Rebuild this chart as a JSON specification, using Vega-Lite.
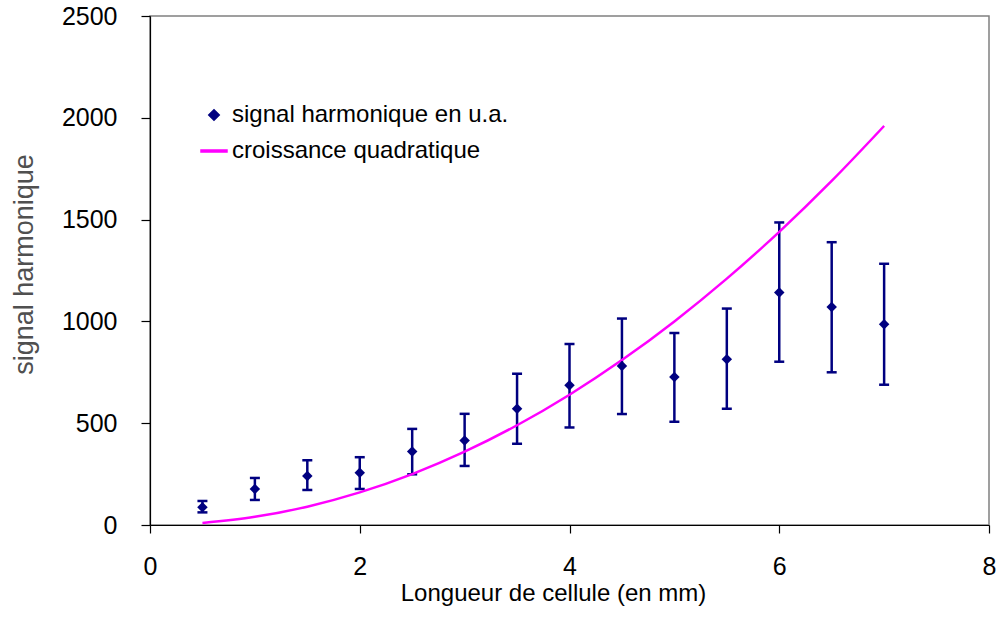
{
  "$schema": "https://vega.github.io/schema/vega-lite/v6.json",
  "width": 839,
  "height": 509,
  "autosize": {"type": "none"},
  "padding": {"left": 150, "top": 16, "right": 7, "bottom": 92},
  "background": "white",
  "config": {
    "view": {"stroke": "#808080", "strokeWidth": 1.5},
    "font": "Liberation Sans",
    "axis": {
      "grid": false,
      "labelFont": "Liberation Sans",
      "labelFontSize": 25,
      "labelColor": "#000000",
      "labelFlush": false,
      "labelOverlap": false,
      "titleFont": "Liberation Sans",
      "titleFontWeight": "normal",
      "domainColor": "#000000",
      "domainWidth": 1.2,
      "tickColor": "#000000",
      "tickWidth": 1.2
    },
    "legend": {
      "labelFont": "Liberation Sans",
      "labelFontSize": 24,
      "labelColor": "#000000",
      "labelLimit": 0
    }
  },
  "datasets": {
    "signal": [
      {"x": 0.5, "y": 87, "lo": 62, "hi": 118, "series": "signal harmonique en u.a."},
      {"x": 1.0, "y": 177, "lo": 123, "hi": 231, "series": "signal harmonique en u.a."},
      {"x": 1.5, "y": 241, "lo": 172, "hi": 318, "series": "signal harmonique en u.a."},
      {"x": 2.0, "y": 257, "lo": 177, "hi": 333, "series": "signal harmonique en u.a."},
      {"x": 2.5, "y": 361, "lo": 249, "hi": 472, "series": "signal harmonique en u.a."},
      {"x": 3.0, "y": 415, "lo": 290, "hi": 546, "series": "signal harmonique en u.a."},
      {"x": 3.5, "y": 571, "lo": 399, "hi": 743, "series": "signal harmonique en u.a."},
      {"x": 4.0, "y": 686, "lo": 479, "hi": 889, "series": "signal harmonique en u.a."},
      {"x": 4.5, "y": 781, "lo": 545, "hi": 1014, "series": "signal harmonique en u.a."},
      {"x": 5.0, "y": 727, "lo": 507, "hi": 943, "series": "signal harmonique en u.a."},
      {"x": 5.5, "y": 814, "lo": 571, "hi": 1063, "series": "signal harmonique en u.a."},
      {"x": 6.0, "y": 1142, "lo": 802, "hi": 1486, "series": "signal harmonique en u.a."},
      {"x": 6.5, "y": 1071, "lo": 750, "hi": 1389, "series": "signal harmonique en u.a."},
      {"x": 7.0, "y": 986, "lo": 689, "hi": 1283, "series": "signal harmonique en u.a."}
    ],
    "quad": [
      {"x": 0.5, "y": 10, "series": "croissance quadratique"},
      {"x": 1.0, "y": 40, "series": "croissance quadratique"},
      {"x": 1.5, "y": 90, "series": "croissance quadratique"},
      {"x": 2.0, "y": 160, "series": "croissance quadratique"},
      {"x": 2.5, "y": 250, "series": "croissance quadratique"},
      {"x": 3.0, "y": 360, "series": "croissance quadratique"},
      {"x": 3.5, "y": 490, "series": "croissance quadratique"},
      {"x": 4.0, "y": 640, "series": "croissance quadratique"},
      {"x": 4.5, "y": 810, "series": "croissance quadratique"},
      {"x": 5.0, "y": 1000, "series": "croissance quadratique"},
      {"x": 5.5, "y": 1210, "series": "croissance quadratique"},
      {"x": 6.0, "y": 1440, "series": "croissance quadratique"},
      {"x": 6.5, "y": 1690, "series": "croissance quadratique"},
      {"x": 7.0, "y": 1960, "series": "croissance quadratique"}
    ]
  },
  "encoding": {
    "x": {
      "field": "x",
      "type": "quantitative",
      "scale": {"domain": [0, 8], "nice": false, "zero": false},
      "axis": {
        "title": "Longueur de cellule (en mm)",
        "values": [0, 2, 4, 6, 8],
        "format": "d",
        "tickSize": 8,
        "labelPadding": 21,
        "titleFontSize": 24,
        "titleColor": "#000000",
        "titleX": 403,
        "titleY": 75,
        "titleBaseline": "alphabetic",
        "titleAnchor": null,
        "titleAlign": "center"
      }
    }
  },
  "layer": [
    {
      "data": {"name": "signal"},
      "mark": {"type": "rule", "color": "#000080", "strokeWidth": 2.5},
      "encoding": {
        "y": {"field": "hi", "type": "quantitative"},
        "y2": {"field": "lo"}
      }
    },
    {
      "data": {"name": "signal"},
      "mark": {"type": "tick", "orient": "horizontal", "color": "#000080", "size": 10, "thickness": 2.5, "opacity": 1},
      "encoding": {"y": {"field": "hi", "type": "quantitative"}}
    },
    {
      "data": {"name": "signal"},
      "mark": {"type": "tick", "orient": "horizontal", "color": "#000080", "size": 10, "thickness": 2.5, "opacity": 1},
      "encoding": {"y": {"field": "lo", "type": "quantitative"}}
    },
    {
      "data": {"name": "quad"},
      "mark": {"type": "line", "strokeWidth": 2.5, "interpolate": "monotone"},
      "encoding": {
        "y": {"field": "y", "type": "quantitative"},
        "color": {
          "field": "series",
          "type": "nominal",
          "legend": {
            "title": null,
            "orient": "none",
            "legendX": 52,
            "legendY": 87,
            "padding": 0,
            "symbolSize": 110,
            "rowPadding": 12,
            "labelOffset": 6
          }
        }
      }
    },
    {
      "data": {"name": "signal"},
      "mark": {"type": "point", "filled": true, "size": 110, "opacity": 1},
      "encoding": {
        "y": {
          "field": "y",
          "type": "quantitative",
          "scale": {"domain": [0, 2500], "nice": false},
          "axis": {
            "title": "signal harmonique",
            "values": [0, 500, 1000, 1500, 2000, 2500],
            "format": "d",
            "tickSize": 9,
            "labelPadding": 24,
            "titleFontSize": 27,
            "titleColor": "#505050",
            "titleX": -118,
            "titleY": 248,
            "titleBaseline": "alphabetic",
            "titleAnchor": null,
            "titleAlign": "center",
            "titleAngle": -90
          }
        },
        "color": {
          "field": "series",
          "type": "nominal",
          "scale": {
            "domain": ["signal harmonique en u.a.", "croissance quadratique"],
            "range": ["#000080", "#FF00FF"]
          },
          "legend": {
            "title": null,
            "orient": "none",
            "legendX": 52,
            "legendY": 87,
            "padding": 0,
            "symbolSize": 110,
            "rowPadding": 12,
            "labelOffset": 6
          }
        },
        "shape": {
          "field": "series",
          "type": "nominal",
          "scale": {
            "domain": ["signal harmonique en u.a.", "croissance quadratique"],
            "range": ["M0,-1L1,0L0,1L-1,0Z", "M-2.48,-0.2L2.48,-0.2L2.48,0.2L-2.48,0.2Z"]
          },
          "legend": {
            "title": null,
            "orient": "none",
            "legendX": 52,
            "legendY": 87,
            "padding": 0,
            "symbolSize": 110,
            "rowPadding": 12,
            "labelOffset": 6
          }
        }
      }
    }
  ]
}
